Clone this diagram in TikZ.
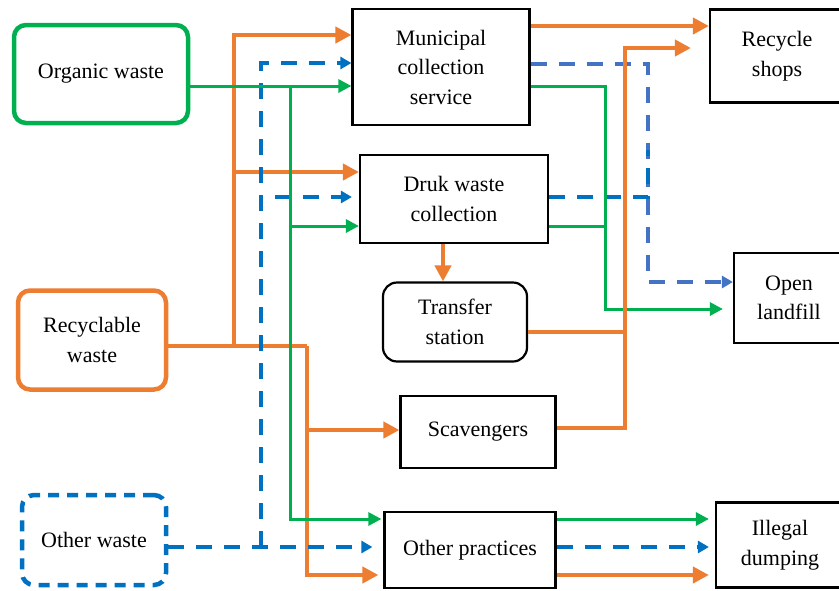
\documentclass[tikz,border=0pt]{standalone}
\usepackage{fontspec}
\setmainfont{Liberation Serif}
\usetikzlibrary{positioning, arrows.meta, calc}
\definecolor{wGreen}{RGB}{0,176,80}
\definecolor{wOrange}{RGB}{237,125,49}
\definecolor{wBlue}{RGB}{0,112,192}
\definecolor{wBlueL}{RGB}{68,114,196}

\begin{document}
\begin{tikzpicture}[
    x=1pt, y=-1pt,
    font=\fontsize{22}{29.5}\selectfont,
    src/.style={rectangle, rounded corners=12pt, line width=4.5pt, align=center},
    proc/.style={rectangle, draw=black, line width=2.2pt, align=center},
    gline/.style={wGreen, line width=3pt},
    garr/.style={gline, -{Triangle[length=13pt, width=13pt]}},
    oline/.style={wOrange, line width=4pt},
    oarr/.style={oline, -{Triangle[length=16pt, width=16pt]}},
    bline/.style={wBlue, line width=3.5pt, dash pattern=on 16pt off 12pt},
    barr/.style={bline, -{Triangle[length=11pt, width=12pt]}}
]
\clip (0,0) rectangle (839,590);
\fill[white] (0,0) rectangle (839,590);

% waste sources
\node[src, draw=wGreen, minimum width=174pt, minimum height=98pt] (org) at (101,74) {Organic waste};
\node[src, draw=wOrange, minimum width=148pt, minimum height=99pt] (rec) at (92,340) {Recyclable\\waste};
\node[src, draw=wBlue, dash pattern=on 11pt off 8pt, minimum width=144pt, minimum height=90pt] (oth) at (94,540) {Other waste};

% handling
\node[proc, minimum width=177pt, minimum height=116pt] (mun) at (441,67) {Municipal\\collection\\service};
\node[proc, minimum width=188pt, minimum height=88pt] (dru) at (454,199) {Druk waste\\collection};
\node[proc, rounded corners=14pt, minimum width=144pt, minimum height=79pt] (tra) at (455,322) {Transfer\\station};
\node[proc, minimum width=155pt, minimum height=72pt] (sca) at (478,432) {Scavengers};
\node[proc, minimum width=171pt, minimum height=76pt] (prac) at (470,550) {Other practices};

% destinations
\node[proc, minimum width=134pt, minimum height=93pt] (shp) at (777,56) {Recycle\\shops};
\node[proc, minimum width=110pt, minimum height=90pt] (lan) at (789,298) {Open\\landfill};
\node[proc, minimum width=128pt, minimum height=85pt] (ill) at (780,545) {Illegal\\dumping};

% junctions
\coordinate (oj)  at (234,346);
\coordinate (oj2) at (307,346);
\coordinate (bj)  at (261,547);
\coordinate (gj)  at (290,86);
\coordinate (gk)  at (605,150);
\coordinate (bk)  at (648,150);
\coordinate (ok)  at (625,332);

% recyclable waste
\draw[oline] ([yshift=-6pt]rec.east) -- (oj2);
\draw[oarr] (oj) |- ([yshift=32pt]mun.west);
\draw[oarr] (oj) |- ([yshift=27pt]dru.west);
\draw[oarr] (oj2) |- ([yshift=2pt]sca.west);
\draw[oarr, shorten >=5pt] (oj2) |- ([yshift=-25pt]prac.west);

% other waste
\draw[barr, shorten >=11pt] ([yshift=-7pt]oth.east) -- ([yshift=3pt]prac.west);
\draw[barr] (bj) |- ([yshift=4pt]mun.west);
\draw[barr, shorten >=7pt] (bj) |- ([yshift=2pt]dru.west);

% organic waste
\draw[garr] ([yshift=-12pt]org.east) -- ([yshift=-19pt]mun.west);
\draw[garr] (gj) |- ([yshift=-27pt]dru.west);
\draw[garr, shorten >=2pt] (gj) |- ([yshift=31pt]prac.west);

% to destinations
\draw[oarr] ([yshift=41pt]mun.east) -- ([yshift=41pt]mun.east -| shp.west);
\draw[barr, wBlueL] ([yshift=3pt]mun.east) -| (bk) |- ([yshift=16pt]lan.west);
\draw[bline] ([yshift=2pt]dru.east) -| (bk);
\draw[garr, shorten >=10pt] ([yshift=-19pt]mun.east) -| (gk) |- ([yshift=-11pt]lan.west);
\draw[gline] ([yshift=-27pt]dru.east) -| (gk);
\draw[oarr] ([xshift=-11pt]dru.south) -- ([xshift=-11pt]dru.south |- tra.north);
\draw[oline] ([yshift=-10pt]tra.east) -- (ok);
\draw[oarr, shorten >=18pt] ([yshift=4pt]sca.east) -| (ok) |- ([yshift=8pt]shp.west);
\draw[garr, shorten >=6pt] ([yshift=31pt]prac.east) -- ([yshift=31pt]prac.east -| ill.west);
\draw[barr, shorten >=6pt] ([yshift=3pt]prac.east) -- ([yshift=3pt]prac.east -| ill.west);
\draw[oarr, shorten >=6pt] ([yshift=-25pt]prac.east) -- ([yshift=-25pt]prac.east -| ill.west);
\end{tikzpicture}
\end{document}
